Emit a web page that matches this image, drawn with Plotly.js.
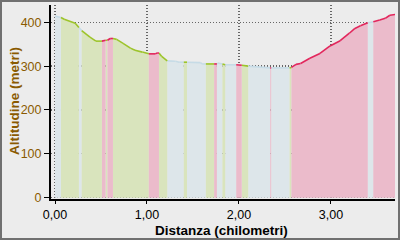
<!DOCTYPE html>
<html>
<head>
<meta charset="utf-8">
<script src="https://cdn.plot.ly/plotly-3.0.1.min.js"></script>
<style>
html,body{margin:0;padding:0;background:#ececec;}
#wrap{width:400px;height:240px;box-sizing:border-box;border:2px solid #707070;background:#ececec;}
#chart{width:396px;height:236px;}
</style>
</head>
<body>
<div id="wrap"><div id="chart"></div></div>
<script>
// Profile: distance (km), altitude (m), slope class of the segment starting at each point
// f = flat (blue), d = descending (green), u = ascending (pink)
const dist = [0.00,0.065,0.10,0.22,0.26,0.29,0.38,0.445,0.51,0.55,0.57,0.60,0.63,0.67,0.74,0.82,0.87,0.95,1.02,1.09,1.11,1.13,1.16,1.22,1.31,1.35,1.40,1.435,1.58,1.60,1.64,1.73,1.76,1.77,1.82,1.85,1.97,2.03,2.10,2.34,2.35,2.55,2.57,2.62,2.67,2.77,2.88,2.99,3.10,3.20,3.26,3.32,3.40,3.46,3.53,3.59,3.64,3.70];
const alt  = [414,411,407,398,388,381,366,357,357,359,359,363,363,361,352,341,336,332,328,328,330,330,322,312,311,309,309,309,308,305,305,305,305,307,305,303,303,302,300,296,296,296,297,304,306,318,329,346,358,375,386,392,399,401,405,409,416,418];
const slope = ['f','d','d','d','f','d','d','d','u','d','u','u','d','d','d','d','d','d','u','u','u','d','d','f','f','f','d','f','f','f','d','u','f','f','d','f','u','d','f','u','f','d','u','u','u','u','u','u','u','u','u','u','f','u','u','u','u',''];

const yTicks = [0,100,200,300,400];
const yTickText = ['0','100','200','300','400'];
const xTicks = [0,1,2,3];
const xTickText = ['0,00','1,00','2,00','3,00'];
const xTitle = 'Distanza (chilometri)';
const yTitle = 'Altitudine (metri)';

const classes = {
  f: {fill:'#dde6ea', line:'#c6dbe6'},
  d: {fill:'#d9e4bd', line:'#9dc42b'},
  u: {fill:'#ebbbcb', line:'#e2265c'}
};

const traces = [];
const fills = {f:{x:[],y:[]}, d:{x:[],y:[]}, u:{x:[],y:[]}};
let i = 0;
while (i < dist.length - 1) {
  const c = slope[i];
  let j = i;
  while (j + 1 < dist.length - 1 && slope[j + 1] === c) j++;
  const F = fills[c];
  F.x.push(dist[i]); F.y.push(0);
  for (let k = i; k <= j + 1; k++) { F.x.push(dist[k]); F.y.push(alt[k]); }
  F.x.push(dist[j + 1]); F.y.push(0);
  F.x.push(null); F.y.push(null);
  i = j + 1;
}
for (const c of ['f','d','u']) {
  traces.push({x:fills[c].x, y:fills[c].y, type:'scatter', mode:'lines', fill:'toself',
    fillcolor:classes[c].fill, line:{width:0}, hoverinfo:'skip', showlegend:false});
}
const lines = {f:{x:[],y:[]}, d:{x:[],y:[]}, u:{x:[],y:[]}};
for (let k = 0; k < dist.length - 1; k++) {
  const L = lines[slope[k]];
  L.x.push(dist[k], dist[k+1], null);
  L.y.push(alt[k], alt[k+1], null);
}
for (const c of ['f','d','u']) {
  traces.push({x:lines[c].x, y:lines[c].y, type:'scatter', mode:'lines',
    line:{color:classes[c].line, width:1.6}, hoverinfo:'skip', showlegend:false});
}
traces.push({x:[dist[dist.length-1]], y:[0], type:'scatter', mode:'markers',
  marker:{symbol:'triangle-left', size:7, color:'#f2d64a', line:{color:'#c9a800', width:0.5}},
  cliponaxis:false, hoverinfo:'skip', showlegend:false});

const tickFont = {family:'"Liberation Sans Narrow", "Liberation Sans", Arial, sans-serif', size:12.5};
const titleFont = {family:'"Liberation Sans", Arial, sans-serif', size:13.5, weight:'bold'};
const layout = {
  width:396, height:236,
  margin:{l:49, r:3, t:3, b:39},
  paper_bgcolor:'#ececec', plot_bgcolor:'rgba(0,0,0,0)',
  showlegend:false,
  xaxis:{
    range:[-0.0435, 3.696], tickvals:xTicks, ticktext:xTickText,
    tickfont:Object.assign({color:'#000'}, tickFont),
    ticks:'outside', ticklen:3, tickcolor:'#000', tickwidth:1,
    showline:true, linecolor:'#000', linewidth:2,
    showgrid:true, gridcolor:'#666', griddash:'1px,2px', gridwidth:1.3, zeroline:false,
    automargin:false, fixedrange:true
  },
  yaxis:{
    range:[-3, 439.4], tickvals:yTicks, ticktext:yTickText,
    tickfont:Object.assign({color:'#8a5a00'}, tickFont),
    ticks:'outside', ticklen:5, tickcolor:'#000', tickwidth:1,
    showline:true, linecolor:'#000', linewidth:2,
    showgrid:true, gridcolor:'#666', griddash:'1px,2px', gridwidth:1.3, zeroline:false,
    automargin:false, fixedrange:true
  },
  annotations:[
    {text:xTitle, xref:'paper', yref:'paper', x:0.497, y:-0.162, xanchor:'center', yanchor:'middle',
      showarrow:false, font:Object.assign({color:'#000'}, titleFont)},
    {text:yTitle, xref:'paper', yref:'paper', x:-0.106, y:0.5026, xanchor:'center', yanchor:'middle',
      textangle:-90, showarrow:false, font:Object.assign({color:'#8a5a00'}, titleFont)}
  ]
};
Plotly.newPlot('chart', traces, layout, {staticPlot:true, displayModeBar:false});
</script>
</body>
</html>
